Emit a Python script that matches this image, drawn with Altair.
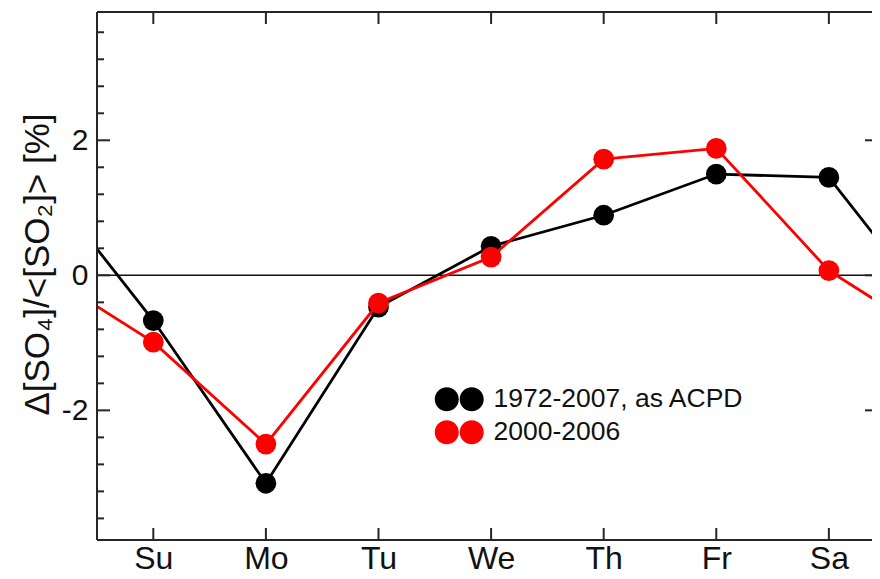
import json
import altair as alt
import pandas as pd

# ---- data ----
days = ["Su", "Mo", "Tu", "We", "Th", "Fr", "Sa"]
series_names = ["1972-2007, as ACPD", "2000-2006"]
black_vals = [-0.67, -3.08, -0.47, 0.43, 0.89, 1.50, 1.45]
red_vals = [-0.99, -2.50, -0.41, 0.27, 1.72, 1.88, 0.07]
series_colors = ["#000000", "#ff0000"]
y_major = [-2, 0, 2]
y_minor = [-3.6, -3.2, -2.8, -2.4, -1.6, -1.2, -0.8, -0.4,
           0.4, 0.8, 1.2, 1.6, 2.4, 2.8, 3.2, 3.6]

W, H = 775, 528
FONT = "Liberation Sans"
FRAME = "#262626"


def point_table(name, vals):
    return pd.DataFrame({"pos": list(range(len(days))), "day": days,
                         "value": vals, "series": name})


def line_table(name, vals):
    # weekly cycle: previous Saturday and next Sunday wrap around the edges
    pos = [-1] + list(range(len(days))) + [len(days)]
    v = [vals[-1]] + list(vals) + [vals[0]]
    return pd.DataFrame({"pos": pos, "value": v, "series": name})


xscale = alt.Scale(domain=[-0.5, 6.383], nice=False, zero=False)
yscale = alt.Scale(domain=[-3.92, 3.9], nice=False, zero=False)
cscale = alt.Scale(domain=series_names, range=series_colors)

label_expr = json.dumps(days) + "[datum.value]"
xaxis = alt.Axis(values=list(range(len(days))), labelExpr=label_expr, ticks=False,
                 domain=False, grid=False, labelPadding=3, labelFontSize=32,
                 labelFont=FONT, labelColor="#111", title=None)
yaxis = alt.Axis(values=y_major, labelExpr="'' + datum.value", ticks=False,
                 domain=False, grid=False,
                 labelPadding=9, labelFontSize=30, labelFont=FONT, labelColor="#111",
                 title="Δ[SO₄]/<[SO₂]> [%]", titleFontSize=35, titleFont=FONT,
                 titleFontWeight="normal", titleColor="#111", titlePadding=6,
                 titleY=252)

two_dots = ("M-2.04,0A1,1,0,1,1,-0.04,0A1,1,0,1,1,-2.04,0Z "
            "M0.04,0A1,1,0,1,1,2.04,0A1,1,0,1,1,0.04,0Z")
legend = alt.Legend(orient="none", legendX=349, legendY=374, title=None,
                    symbolType=two_dots, symbolSize=576, symbolStrokeWidth=0,
                    labelFontSize=26.5, labelFont=FONT, labelColor="#111",
                    labelLimit=600, labelOffset=21, rowPadding=6, padding=0)

layers = []
# zero line
layers.append(alt.Chart(pd.DataFrame({"v": [0]})).mark_rule(
    color="#111", strokeWidth=1.5).encode(
    y=alt.Y("v:Q", scale=yscale, axis=yaxis)))

for name, vals, col in zip(series_names, [black_vals, red_vals], series_colors):
    lt = line_table(name, vals)
    pt = point_table(name, vals)
    layers.append(alt.Chart(lt).mark_line(strokeWidth=2.8, clip=True, color=col).encode(
        x=alt.X("pos:Q", scale=xscale, axis=xaxis),
        y=alt.Y("value:Q", scale=yscale, axis=yaxis)))
    layers.append(alt.Chart(pt).mark_point(filled=True, size=430, opacity=1,
                                           shape="circle").encode(
        x=alt.X("pos:Q", scale=xscale, axis=xaxis),
        y=alt.Y("value:Q", scale=yscale, axis=yaxis),
        color=alt.Color("series:N", scale=cscale, legend=legend)))

# frame (left, top, bottom) and inward ticks
tick_style = dict(color=FRAME, strokeWidth=2)
frame_df = pd.DataFrame({"v": [0]})
layers.append(alt.Chart(frame_df).mark_rule(**tick_style).encode(
    x=alt.value(0), y=alt.value(0), y2=alt.value(H)))
layers.append(alt.Chart(frame_df).mark_rule(**tick_style).encode(
    x=alt.value(0), x2=alt.value(W), y=alt.value(0)))
layers.append(alt.Chart(frame_df).mark_rule(**tick_style).encode(
    x=alt.value(0), x2=alt.value(W), y=alt.value(H)))

maj = pd.DataFrame({"v": y_major})
mnr = pd.DataFrame({"v": y_minor})
dd = pd.DataFrame({"pos": list(range(len(days)))})
layers.append(alt.Chart(maj).mark_rule(**tick_style).encode(
    y=alt.Y("v:Q", scale=yscale, axis=yaxis), x=alt.value(0), x2=alt.value(13)))
layers.append(alt.Chart(mnr).mark_rule(**tick_style).encode(
    y=alt.Y("v:Q", scale=yscale, axis=yaxis), x=alt.value(0), x2=alt.value(7)))
layers.append(alt.Chart(maj).mark_rule(**tick_style).encode(
    y=alt.Y("v:Q", scale=yscale, axis=yaxis), x=alt.value(W - 7), x2=alt.value(W)))
layers.append(alt.Chart(dd).mark_rule(**tick_style).encode(
    x=alt.X("pos:Q", scale=xscale, axis=xaxis), y=alt.value(H), y2=alt.value(H - 12)))
layers.append(alt.Chart(dd).mark_rule(**tick_style).encode(
    x=alt.X("pos:Q", scale=xscale, axis=xaxis), y=alt.value(0), y2=alt.value(12)))

chart = alt.layer(*layers).properties(
    width=W, height=H,
    autosize=alt.AutoSizeParams(type="none"),
    padding={"left": 89, "top": 4, "right": 0, "bottom": 35},
).configure_view(strokeWidth=0).configure(background="white")

chart.save("out.html", embed_options={"renderer": "svg", "actions": False})
